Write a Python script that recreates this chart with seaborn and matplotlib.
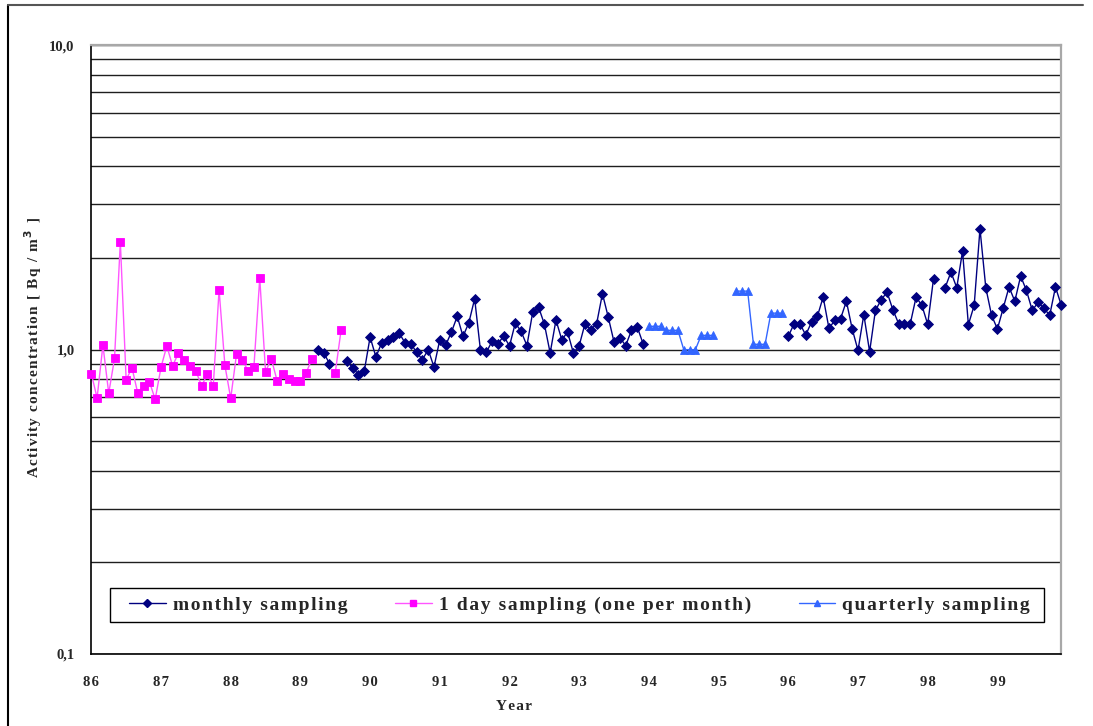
import numpy as np
import pandas as pd
import matplotlib
matplotlib.use("Agg")
import matplotlib.pyplot as plt
import seaborn as sns
from matplotlib.lines import Line2D
from matplotlib.patches import Rectangle

# ---------------- data ----------------
start_year = 1986
year_ticks = list(range(1986, 2000))
year_labels = ["86", "87", "88", "89", "90", "91", "92", "93", "94", "95", "96", "97", "98", "99"]
y_ticks = [0.1, 1.0, 10.0]
y_tick_labels = ["0,1", "1,0", "10,0"]

# 1 day sampling (one per month), first value = Jan 1986
day_start = 0
day_values = [0.834, 0.694, 1.035, 0.719, 0.936, 2.26, 0.795, 0.873, 0.719, 0.758,
              0.785, 0.687, 0.875, 1.028, 0.884, 0.975, 0.922, 0.884, 0.851, 0.760,
              0.832, 0.760, 1.574, 0.888, 0.692, 0.965, 0.922, 0.853, 0.880, 1.718,
              0.847, 0.932, 0.789, 0.834, 0.803, 0.789, 0.789, 0.840, 0.934, None,
              None, None, 0.840, 1.157]

# monthly sampling, first value = Apr 1989
monthly_start = 39
monthly_values = [1.000, 0.978, 0.900, None, None, 0.915, 0.873, 0.828, 0.851,
                  1.100, 0.946, 1.054, 1.073, 1.100, 1.134, 1.054, 1.046, 0.982, 0.927, 1.000, 0.877,
                  1.078, 1.033, 1.142, 1.286, 1.106, 1.226, 1.470, 0.995, 0.980, 1.065, 1.046, 1.108,
                  1.028, 1.223, 1.148, 1.031, 1.329, 1.380, 1.214, 0.975, 1.251, 1.078, 1.142, 0.975,
                  1.031, 1.217, 1.163, 1.217, 1.527, 1.279, 1.059, 1.095, 1.031, 1.157, 1.186, 1.046,
                  None, None, None, None, None, None, None, None, None, None, None, None,
                  None, None, None, None, None, None, None, None, None, None, None, None,
                  1.106, 1.217, 1.217, 1.117, 1.232, 1.286, 1.488, 1.175, 1.248, 1.264, 1.443, 1.169,
                  0.995, 1.303, 0.985, 1.346, 1.459, 1.545, 1.353, 1.217, 1.217, 1.217, 1.488, 1.398,
                  1.211, 1.710, None, 1.598, 1.798, 1.598, 2.107, 1.208, 1.398, 2.495, 1.598, 1.296,
                  1.169, 1.369, 1.606, 1.443, 1.745, 1.565, 1.346, 1.429, 1.369, 1.296, 1.606, 1.398]

# quarterly sampling, first value = Jan 1994
quarterly_start = 96
quarterly_values = [1.193, 1.193, 1.193, 1.157, 1.157, 1.157, 1.000, 1.000, 1.000,
                    1.114, 1.114, 1.114, None, None, None, 1.557, 1.557, 1.557,
                    1.041, 1.041, 1.041, 1.318, 1.318, 1.318]

series_names = ["monthly sampling", "1 day sampling (one per month)", "quarterly sampling"]


def to_frame(start, values, name):
    idx = np.arange(start, start + len(values))
    v = pd.Series(values, dtype=float)
    seg = v.isna().cumsum().values
    df = pd.DataFrame({"year": start_year + idx / 12.0, "value": v.values,
                       "segment": seg, "series": name})
    return df.dropna(subset=["value"])


frames = {
    series_names[0]: to_frame(monthly_start, monthly_values, series_names[0]),
    series_names[1]: to_frame(day_start, day_values, series_names[1]),
    series_names[2]: to_frame(quarterly_start, quarterly_values, series_names[2]),
}

styles = {
    series_names[0]: dict(color="#000080", marker="D", markersize=4.6, mfc="#000080", mec="#000080"),
    series_names[1]: dict(color="#FF55FF", marker="s", markersize=5.6, mfc="#FF00FF", mec="#FF00FF"),
    series_names[2]: dict(color="#3366FF", marker="^", markersize=5.6, mfc="#3366FF", mec="#3366FF"),
}

# ---------------- styling ----------------
sns.set_style("white")
plt.rcParams["font.family"] = ["Liberation Serif", "DejaVu Serif"]
plt.rcParams["font.weight"] = "bold"

W, H = 1093, 726
fig = plt.figure(figsize=(W / 100, H / 100), dpi=100)
fig.patch.set_facecolor("white")
left_px, right_px, top_px, bottom_px = 91.3, 1061.3, 45.3, 654.0
ax = fig.add_axes([left_px / W, 1 - bottom_px / H, (right_px - left_px) / W, (bottom_px - top_px) / H])


def spaced(s):
    return "\u200a".join(s)


order = [series_names[1], series_names[0], series_names[2]]
for name in order:
    df = frames[name]
    st = styles[name]
    for _, seg in df.groupby("segment"):
        sns.lineplot(data=seg, x="year", y="value", ax=ax, estimator=None, sort=True,
                     color=st["color"], marker=st["marker"], markersize=st["markersize"],
                     markerfacecolor=st["mfc"], markeredgecolor=st["mec"], markeredgewidth=0.6,
                     linewidth=1.0, legend=False, zorder=3, clip_on=False)

ax.set_yscale("log")
ax.set_ylim(0.1, 10)
ax.set_xlim(start_year, start_year + 167 / 12.0)

ax.set_yticks(y_ticks)
ax.set_yticklabels(y_tick_labels)
ax.set_xticks(year_ticks)
ax.set_xticklabels([spaced(s) for s in year_labels])
ax.yaxis.set_minor_locator(matplotlib.ticker.LogLocator(base=10, subs=np.arange(2, 10)))
ax.yaxis.set_minor_formatter(matplotlib.ticker.NullFormatter())

ax.yaxis.grid(True, which="both", color="#1e1e1e", linewidth=1.0, zorder=0)
ax.xaxis.grid(False)
ax.set_axisbelow(True)

ax.tick_params(axis="both", which="major", direction="out", length=5, width=1, color="black",
               labelsize=10.5)
ax.tick_params(axis="y", which="major", pad=7)
ax.tick_params(axis="x", which="major", pad=11)
ax.tick_params(axis="y", which="minor", length=0)
for lbl in ax.get_xticklabels() + ax.get_yticklabels():
    lbl.set_fontweight("bold")

ax.set_xlabel("")
ax.set_ylabel("")
for side in ["left", "bottom"]:
    ax.spines[side].set_color("black")
    ax.spines[side].set_linewidth(1.2)
for side in ["top", "right"]:
    ax.spines[side].set_color("#a8a8a8")
    ax.spines[side].set_linewidth(1.6)

# axis titles
fig.text(33 / W, 1 - 348 / H, spaced("Activity concentration [ Bq / m") + "\u200a$^{3}$\u200a" + spaced(" ]"),
         rotation=90, ha="center", va="center", fontsize=11, fontweight="bold")
fig.text(514 / W, 1 - 707 / H, spaced("Year"), ha="center", va="center", fontsize=11, fontweight="bold")

# legend
handles = [Line2D([0], [0], color=styles[n]["color"], marker=styles[n]["marker"],
                  markersize=styles[n]["markersize"] * 0.85, markerfacecolor=styles[n]["mfc"],
                  markeredgecolor=styles[n]["mec"], linewidth=1.0) for n in series_names]
leg = fig.legend(handles, [spaced(n) for n in series_names], loc="center left",
                 bbox_to_anchor=(129 / W, 1 - 605.5 / H, (1030 - 129) / W, 0.0),
                 mode="expand", ncol=3, frameon=False, borderpad=0, borderaxespad=0,
                 handlelength=1.9, handletextpad=0.35, prop=dict(size=14, weight="bold"))
fig.add_artist(Rectangle((110 / W, 1 - 622 / H), (1044 - 110) / W, 34 / H, transform=fig.transFigure,
                         fill=False, edgecolor="black", linewidth=1.0, zorder=5))

# outer chart frame (left + top edges visible)
fig.add_artist(Line2D([8 / W, 8 / W], [0, 1 - 5 / H], transform=fig.transFigure, color="black", linewidth=1.5))
fig.add_artist(Line2D([8 / W, 1083 / W], [1 - 5 / H, 1 - 5 / H], transform=fig.transFigure,
                      color="#555555", linewidth=1.5))

fig.savefig("out.png", dpi=100, facecolor="white")
